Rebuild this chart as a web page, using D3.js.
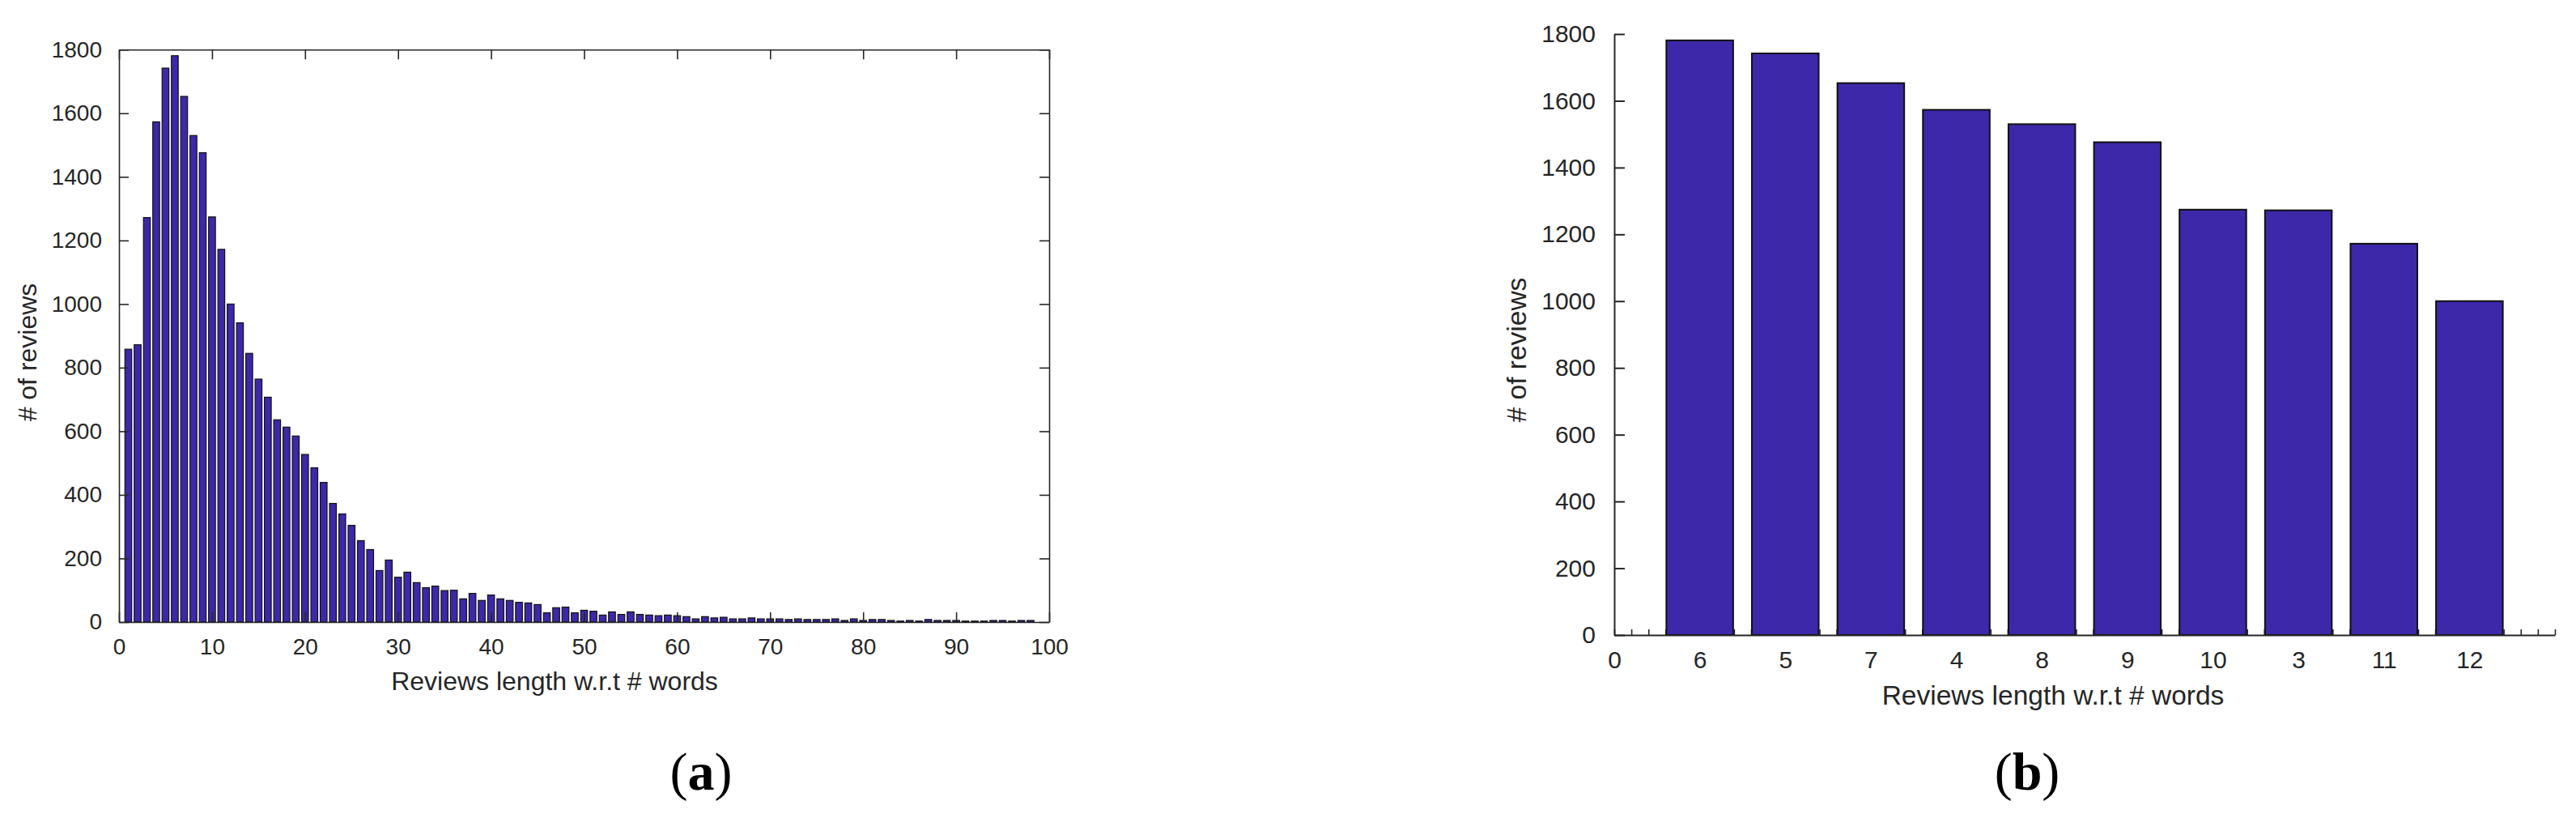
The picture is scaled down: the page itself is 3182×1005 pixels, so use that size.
<!DOCTYPE html>
<html>
<head>
<meta charset="utf-8">
<script src="https://cdn.jsdelivr.net/npm/d3@7"></script>
<style>
  body { margin: 0; background: #fff; }
  svg { display: block; }
</style>
</head>
<body>
<svg id="chart" width="3182" height="1005"></svg>
<script>
// (a) histogram: review length (words) -> number of reviews
let lengths = d3.range(1, 99);
let counts = [858, 872, 1272, 1573, 1742, 1781, 1653, 1530, 1476, 1274,
              1172, 1000, 941, 845, 764, 707, 636, 613, 585, 527,
              485, 439, 373, 340, 304, 256, 228, 162, 195, 141,
              157, 124, 108, 113, 99, 100, 73, 90, 68, 85,
              73, 68, 62, 60, 55, 29, 45, 47, 29, 37,
              34, 22, 32, 24, 32, 24, 22, 20, 22, 20,
              17, 10, 17, 13, 15, 10, 10, 13, 10, 10,
              10, 8, 10, 8, 8, 8, 10, 5, 10, 5,
              8, 8, 5, 3, 5, 3, 8, 5, 5, 5,
              3, 3, 3, 5, 5, 3, 5, 5];

// (b) top ten lengths, sorted
let topLengths = ["6", "5", "7", "4", "8", "9", "10", "3", "11", "12"];
let topCounts = [1781, 1742, 1653, 1573, 1530, 1476, 1274, 1272, 1172, 1000];

let xTicksA = d3.range(0, 101, 10);
let yTicks = d3.range(0, 1801, 200);

let xTitle = "Reviews length w.r.t # words";
let yTitle = "# of reviews";

const barColor = "#3c28a8";
const ink = "#262626";
const sans = "'Liberation Sans', Arial, sans-serif";
const plain = d3.format("d");

const svg = d3.select("#chart");

function styleAxis(g, size) {
    g.attr("font-family", sans).attr("font-size", size);
    g.selectAll("path, line").attr("stroke", ink).attr("stroke-width", 1.6);
    g.selectAll("text").attr("fill", ink);
}

/* ---------- chart (a) ---------- */
const xa = d3.scaleLinear().domain([0, 100]).range([147, 1296]);
const ya = d3.scaleLinear().domain([0, 1800]).range([768, 61.3]);
const stepA = xa(1) - xa(0);

svg.append("g")
    .selectAll("rect")
    .data(counts)
    .enter()
    .append("rect")
    .attr("x", (d, i) => xa(lengths[i]) - stepA * 0.42 + 0.6)
    .attr("width", stepA * 0.84 - 1.2)
    .attr("y", d => ya(d))
    .attr("height", d => ya(0) - ya(d))
    .attr("fill", barColor)
    .attr("stroke", "#111")
    .attr("stroke-width", 1.2);

svg.append("g")
    .attr("transform", `translate(0, ${ya(0)})`)
    .call(d3.axisBottom(xa).tickValues(xTicksA).tickFormat(plain).tickSizeInner(-12).tickSizeOuter(0).tickPadding(20))
    .call(g => styleAxis(g, 28));

svg.append("g")
    .attr("transform", `translate(0, ${ya(1800)})`)
    .call(d3.axisTop(xa).tickValues(xTicksA).tickSizeInner(-12).tickSizeOuter(0).tickFormat(""))
    .call(g => styleAxis(g, 28));

svg.append("g")
    .attr("transform", `translate(${xa(0)}, 0)`)
    .call(d3.axisLeft(ya).tickValues(yTicks).tickFormat(plain).tickSizeInner(-12).tickSizeOuter(0).tickPadding(21))
    .call(g => styleAxis(g, 28));

svg.append("g")
    .attr("transform", `translate(${xa(100)}, 0)`)
    .call(d3.axisRight(ya).tickValues(yTicks).tickSizeInner(-12).tickSizeOuter(0).tickFormat(""))
    .call(g => styleAxis(g, 28));

svg.append("text")
    .attr("x", 685).attr("y", 852)
    .attr("text-anchor", "middle")
    .attr("font-family", sans).attr("font-size", 32).attr("fill", ink)
    .text(xTitle);

svg.append("text")
    .attr("transform", "translate(45, 435) rotate(-90)")
    .attr("text-anchor", "middle")
    .attr("font-family", sans).attr("font-size", 32).attr("fill", ink)
    .text(yTitle);

/* ---------- chart (b) ---------- */
const xb = d3.scaleLinear().domain([0, 11]).range([1994, 3156]);
const yb = d3.scaleLinear().domain([0, 1800]).range([784, 42]);
const stepB = xb(1) - xb(0);

// small ticks along the base, sitting under the bars
svg.append("g")
    .attr("transform", `translate(0, ${yb(0)})`)
    .call(d3.axisBottom(xb).tickValues(d3.range(0, 56).map(k => k / 5)).tickSizeInner(-7).tickSizeOuter(0).tickFormat(""))
    .call(g => styleAxis(g, 30))
    .call(g => g.select(".domain").remove());

svg.append("g")
    .selectAll("rect")
    .data(topCounts)
    .enter()
    .append("rect")
    .attr("x", (d, i) => xb(i + 1) - stepB * 0.4 + 1)
    .attr("width", stepB * 0.8 - 2)
    .attr("y", d => yb(d))
    .attr("height", d => yb(0) - yb(d))
    .attr("fill", barColor)
    .attr("stroke", "#111")
    .attr("stroke-width", 2);

let labelsB = ["0"].concat(topLengths);
svg.append("g")
    .attr("transform", `translate(0, ${yb(0)})`)
    .call(d3.axisBottom(xb).tickValues(d3.range(0, 11)).tickSize(0).tickPadding(20)
        .tickFormat((d, i) => labelsB[i]))
    .call(g => styleAxis(g, 30))
    .call(g => g.select(".domain").attr("stroke-width", 2.2));

svg.append("g")
    .attr("transform", `translate(${xb(0)}, 0)`)
    .call(d3.axisLeft(yb).tickValues(yTicks).tickFormat(plain).tickSizeInner(-13).tickSizeOuter(0).tickPadding(23))
    .call(g => styleAxis(g, 30))
    .call(g => g.selectAll("path, line").attr("stroke-width", 2));

svg.append("text")
    .attr("x", 2536).attr("y", 870)
    .attr("text-anchor", "middle")
    .attr("font-family", sans).attr("font-size", 33.5).attr("fill", ink)
    .text(xTitle);

svg.append("text")
    .attr("transform", "translate(1885, 432) rotate(-90)")
    .attr("text-anchor", "middle")
    .attr("font-family", sans).attr("font-size", 33.5).attr("fill", ink)
    .text(yTitle);

/* ---------- sub-figure captions ---------- */
let captions = [["a", 866], ["b", 2504]];
captions.forEach(function(c) {
    let t = svg.append("text")
        .attr("x", c[1]).attr("y", 975)
        .attr("text-anchor", "middle")
        .attr("font-family", "'Liberation Serif', 'Times New Roman', serif")
        .attr("font-size", 66).attr("fill", "#000");
    t.append("tspan").text("(");
    t.append("tspan").attr("font-weight", "bold").text(c[0]);
    t.append("tspan").text(")");
});
</script>
</body>
</html>
